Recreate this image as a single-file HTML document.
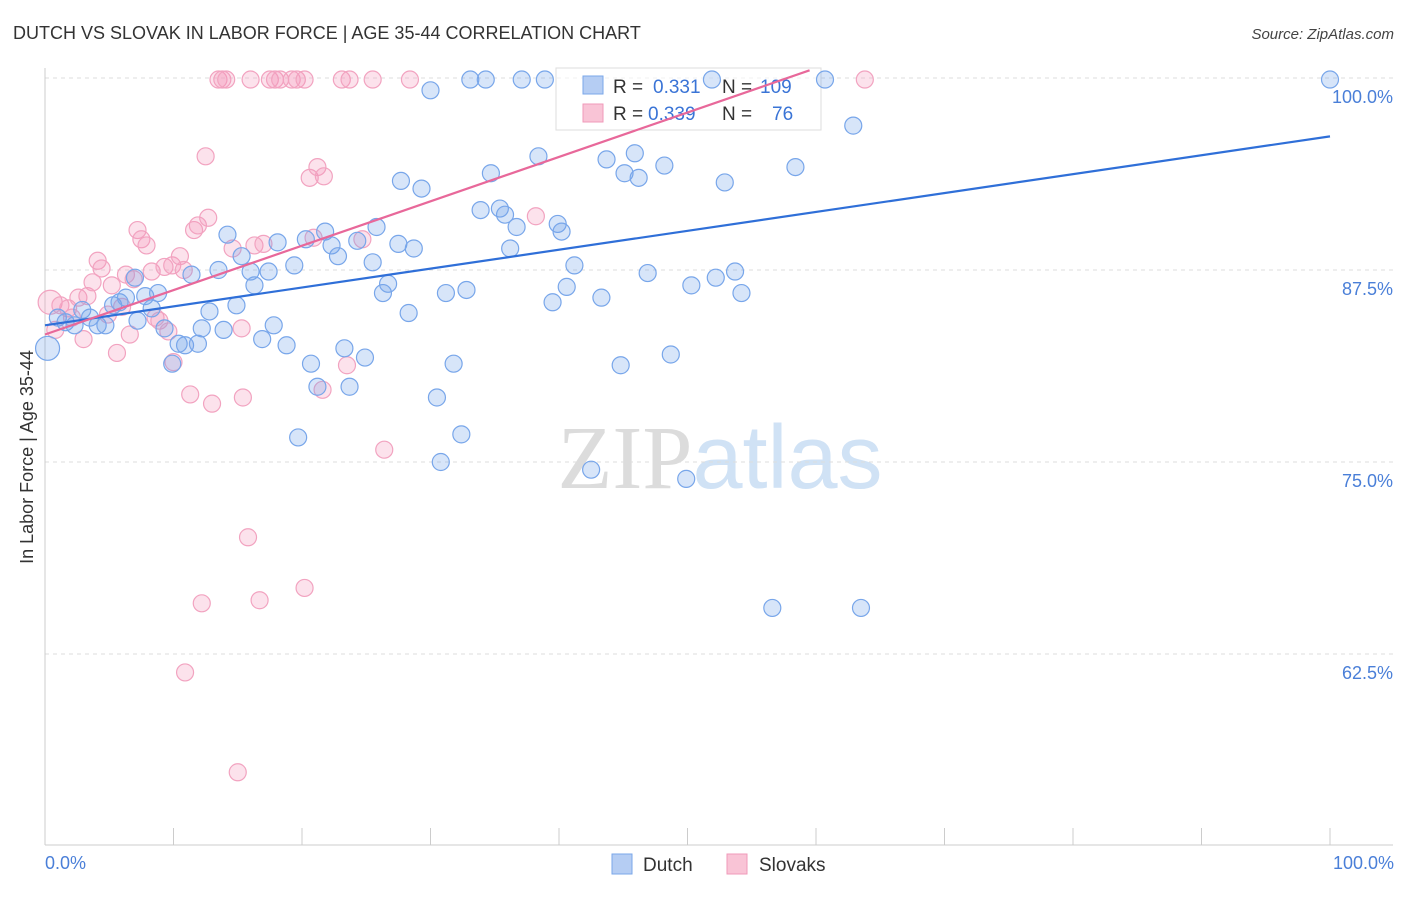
<!DOCTYPE html>
<html><head><meta charset="utf-8"><style>
body{margin:0;background:#fff;font-family:"Liberation Sans",sans-serif;}
</style></head><body>
<svg id="chart" width="1406" height="892" xmlns="http://www.w3.org/2000/svg" style="font-family:'Liberation Sans',sans-serif">
<text x="13" y="39" font-size="18" fill="#333">DUTCH VS SLOVAK IN LABOR FORCE | AGE 35-44 CORRELATION CHART</text>
<text x="1394" y="39" font-size="15" fill="#444" text-anchor="end" font-style="italic">Source: ZipAtlas.com</text>
<text x="720" y="488" font-size="90" text-anchor="middle"><tspan fill="#dcdcdc" font-family="Liberation Serif">ZIP</tspan><tspan fill="#d0e2f5">atlas</tspan></text>
<g id="grid"></g>
<g id="axes"></g>
<g>
<rect x="556" y="68" width="265" height="62" fill="rgba(255,255,255,0.55)" stroke="#ddd"/>
<rect x="583" y="76" width="20" height="18" fill="#b5cdf3" stroke="#7aa7ea"/>
<rect x="583" y="104" width="20" height="18" fill="#f9c4d6" stroke="#f09ab9"/>
<text x="613" y="93" font-size="19" fill="#333">R =</text><text x="653" y="93" font-size="19" fill="#3a74d6">0.331</text>
<text x="722" y="93" font-size="19" fill="#333">N =</text><text x="760" y="93" font-size="19" fill="#3a74d6">109</text>
<text x="613" y="120" font-size="19" fill="#333">R =</text><text x="648" y="120" font-size="19" fill="#3a74d6">0.339</text>
<text x="722" y="120" font-size="19" fill="#333">N =</text><text x="772" y="120" font-size="19" fill="#3a74d6">76</text>
</g>
<g id="marks"></g>
<text transform="translate(33,457) rotate(-90)" font-size="18" fill="#333" text-anchor="middle">In Labor Force | Age 35-44</text>
<text x="45" y="869" font-size="18" fill="#4a7fd8">0.0%</text>
<text x="1394" y="869" font-size="18" fill="#4a7fd8" text-anchor="end">100.0%</text>
<g><rect x="612" y="854" width="20" height="20" fill="#b5cdf3" stroke="#7aa7ea"/><text x="643" y="871" font-size="19" fill="#333">Dutch</text></g>
<g><rect x="727" y="854" width="20" height="20" fill="#f9c4d6" stroke="#f09ab9"/><text x="759" y="871" font-size="19" fill="#333">Slovaks</text></g>
</svg>
<script>
const yTicks=[100,87.5,75,62.5];
const yTickLabels=["100.0%","87.5%","75.0%","62.5%"];
const xTicks=[0,10,20,30,40,50,60,70,80,90,100];
const dutchX=[0.2,1.0,1.6,2.3,2.9,3.5,4.1,4.7,5.3,5.8,6.3,7.0,7.2,7.8,8.3,8.8,9.3,9.9,10.4,10.9,11.4,11.9,12.2,12.8,13.5,13.9,14.2,14.9,15.3,16.0,16.3,16.9,17.4,17.8,18.1,18.8,19.4,19.7,20.3,20.7,21.2,21.8,22.3,22.8,23.3,23.7,24.3,24.9,25.5,25.8,26.3,26.7,27.5,27.7,28.3,28.7,29.3,30.0,30.5,30.8,31.2,31.8,32.4,32.8,33.1,33.9,34.3,34.7,35.4,35.8,36.2,36.7,37.1,38.4,38.9,39.5,39.9,40.2,40.6,41.2,42.5,43.3,43.7,44.8,45.1,45.9,46.2,46.9,48.2,48.7,49.9,50.3,51.9,52.2,52.9,53.7,54.2,56.6,58.4,60.7,62.9,63.5,100];
const dutchY=[82.4,84.4,84.1,83.9,84.9,84.4,83.9,83.9,85.2,85.4,85.7,87.0,84.2,85.8,85.0,86.0,83.7,81.4,82.7,82.6,87.2,82.7,83.7,84.8,87.5,83.6,89.8,85.2,88.4,87.4,86.5,83.0,87.4,83.9,89.3,82.6,87.8,76.6,89.5,81.4,79.9,90.0,89.1,88.4,82.4,79.9,89.4,81.8,88.0,90.3,86.0,86.6,89.2,93.3,84.7,88.9,92.8,99.2,79.2,75.0,86.0,81.4,76.8,86.2,99.9,91.4,99.9,93.8,91.5,91.1,88.9,90.3,99.9,94.9,99.9,85.4,90.5,90.0,86.4,87.8,74.5,85.7,94.7,81.3,93.8,95.1,93.5,87.3,94.3,82.0,73.9,86.5,99.9,87.0,93.2,87.4,86.0,65.5,94.2,99.9,96.9,65.5,99.9];
const slovakX=[0.4,0.8,1.2,1.8,2.1,2.6,3.0,3.3,3.7,4.1,4.4,4.9,5.2,5.6,6.0,6.3,6.6,6.9,7.2,7.5,7.9,8.3,8.6,8.9,9.3,9.6,9.9,10.0,10.5,10.8,11.3,11.6,11.9,12.2,12.5,12.7,13.0,13.5,13.8,14.1,14.6,15.0,15.3,15.4,15.8,16.0,16.3,16.7,17.0,17.5,17.9,18.3,19.2,19.6,20.2,20.2,20.6,20.9,21.2,21.6,21.7,23.1,23.5,23.7,24.7,25.5,26.4,28.4,38.2,10.9,63.8];
const slovakY=[85.4,83.6,85.2,85.0,84.4,85.7,83.0,85.8,86.7,88.1,87.6,84.6,86.5,82.1,85.1,87.2,83.3,86.9,90.1,89.5,89.1,87.4,84.4,84.2,87.7,83.5,87.8,81.5,88.4,87.5,79.4,90.1,90.4,65.8,94.9,90.9,78.8,99.9,99.9,99.9,88.9,54.8,83.7,79.2,70.1,99.9,89.1,66.0,89.2,99.9,99.9,99.9,99.9,99.9,99.9,66.8,93.5,89.6,94.2,79.7,93.6,99.9,81.3,99.9,89.5,99.9,75.8,99.9,91.0,61.3,99.9];
const dutchTrend=[83.9,96.2];
const slovakTrend=[83.3,100.5];
const slovakTrendEnd=59.5;
const NS='http://www.w3.org/2000/svg';
const xs=v=>45+v*12.85, ys=v=>78+(100-v)*15.36;
function mk(t,a,p){const e=document.createElementNS(NS,t);for(const k in a)e.setAttribute(k,a[k]);p.appendChild(e);return e;}
const grid=document.getElementById('grid'),axes=document.getElementById('axes'),marks=document.getElementById('marks');
yTicks.forEach((v,i)=>{
 const l=mk('line',{x1:45,x2:1393,y1:ys(v),y2:ys(v),stroke:'#ddd','stroke-dasharray':'4,4'},grid);
 
 
 const t=mk('text',{x:1393,y:ys(v)+25,'font-size':18,fill:'#4a7fd8','text-anchor':'end'},grid);
 t.textContent=yTickLabels[i];
 
 
});
const ax=mk('line',{x1:45,x2:1393,y1:845,y2:845,stroke:'#ccc'},axes);


const ay=mk('line',{x1:45,x2:45,y1:68,y2:845,stroke:'#ccc'},axes);


xTicks.forEach(v=>{const t=mk('line',{x1:xs(v),x2:xs(v),y1:828,y2:845,stroke:'#ccc'},axes);
 
 });
function dots(X,Y,fill,stroke,name){X.forEach((x,i)=>{
 const c=mk('circle',{cx:xs(x),cy:ys(Y[i]),r:(i===0?12:8.5),fill:fill,stroke:stroke,'stroke-width':1.2},marks);
 
 });}
dots(slovakX,slovakY,'rgba(244,150,185,0.28)','#f2a3c0','slovak-point');
dots(dutchX,dutchY,'rgba(110,160,235,0.28)','#78a6ea','dutch-point');
const bl=mk('line',{x1:xs(0),y1:ys(dutchTrend[0]),x2:xs(100),y2:ys(dutchTrend[1]),stroke:'#2f6fd8','stroke-width':2.2},marks);


const pl=mk('line',{x1:xs(0),y1:ys(slovakTrend[0]),x2:xs(slovakTrendEnd),y2:ys(slovakTrend[1]),stroke:'#e8689a','stroke-width':2.2},marks);


</script>
</body></html>
